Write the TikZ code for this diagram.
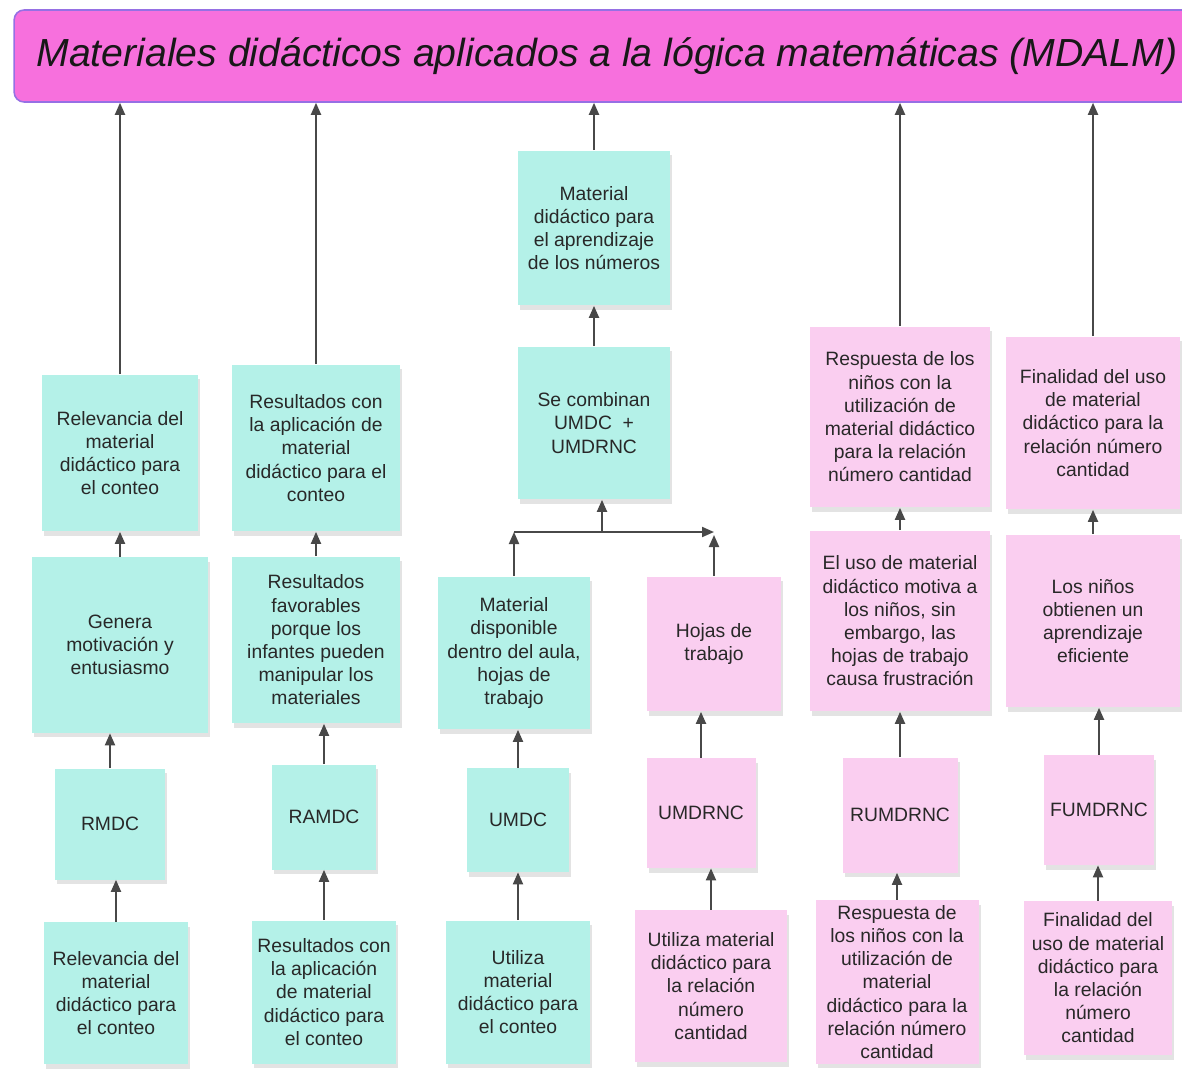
\documentclass[tikz,border=0pt]{standalone}
\usepackage{fontspec}
\setmainfont{Liberation Sans}
\usetikzlibrary{arrows.meta,shadows}
\definecolor{titlepink}{RGB}{247,112,221}
\definecolor{titleedge}{RGB}{150,112,228}
\definecolor{cardteal}{RGB}{180,241,232}
\definecolor{cardpink}{RGB}{250,206,240}
\definecolor{arrowgray}{RGB}{72,72,72}
\definecolor{inkgray}{RGB}{40,40,40}
\tikzset{
  card/.style={rectangle, inner sep=0pt, align=center, text=inkgray,
    font=\fontsize{11}{13.2}\selectfont,
    drop shadow={shadow xshift=0.4mm, shadow yshift=-0.9mm, opacity=0.22}},
  tealcard/.style={card, fill=cardteal},
  pinkcard/.style={card, fill=cardpink},
  sz/.style 2 args={minimum width=#1cm, minimum height=#2cm},
  conn/.style={draw=arrowgray, line width=1.1pt, -{Triangle[length=2.4mm,width=2mm]}},
}
\begin{document}
\begin{tikzpicture}[x=0.02cm, y=-0.02cm]
\useasboundingbox (0,0) rectangle (1182,1078);
\clip (0,0) rectangle (1182,1078);
%title bar
\node[rectangle, rounded corners=2mm, fill=titlepink, draw=titleedge, line width=0.9pt,
  sz={23.72}{1.84}, text=inkgray!60!black, font=\fontsize{22.3}{26}\selectfont\itshape]
  (T) at (607,56) {Materiales didácticos aplicados a la lógica matemáticas (MDALM)};

%first column (counting relevance)
\node[tealcard, sz={3.14}{3.14}] (A1) at (120,453) {Relevancia del\\material\\didáctico para\\el conteo};
\node[tealcard, sz={3.54}{3.52}] (A2) at (120,645) {Genera\\motivación y\\entusiasmo};
\node[tealcard, sz={2.2}{2.22}] (A3) at (110,824) {RMDC};
\node[tealcard, sz={2.88}{2.84}] (A4) at (116,993) {Relevancia del\\material\\didáctico para\\el conteo};

%second column (results)
\node[tealcard, sz={3.36}{3.34}] (B1) at (316,448) {Resultados con\\la aplicación de\\material\\didáctico para el\\conteo};
\node[tealcard, sz={3.36}{3.34}] (B2) at (316,640) {Resultados\\favorables\\porque los\\infantes pueden\\manipular los\\materiales};
\node[tealcard, sz={2.08}{2.1}] (B3) at (324,817) {RAMDC};
\node[tealcard, sz={2.88}{2.86}] (B4) at (324,992) {Resultados con\\la aplicación\\de material\\didáctico para\\el conteo};

%third column (use in the classroom)
\node[tealcard, sz={3.04}{3.1}] (C0) at (594,228) {Material\\didáctico para\\el aprendizaje\\de los números};
\node[tealcard, sz={3.04}{3.06}] (C1) at (594,423) {Se combinan\\UMDC~~+\\UMDRNC};
\node[tealcard, sz={3.06}{3.06}] (C2) at (514,653) {Material\\disponible\\dentro del aula,\\hojas de\\trabajo};
\node[tealcard, sz={2.06}{2.08}] (C3) at (518,820) {UMDC};
\node[tealcard, sz={2.88}{2.86}] (C4) at (518,992) {Utiliza\\material\\didáctico para\\el conteo};

%fourth column (worksheets)
\node[pinkcard, sz={2.68}{2.7}] (D2) at (714,644) {Hojas de\\trabajo};
\node[pinkcard, sz={2.18}{2.2}] (D3) at (701,813) {UMDRNC};
\node[pinkcard, sz={3.04}{3.04}] (D4) at (711,986) {Utiliza material\\didáctico para\\la relación\\número\\cantidad};

%fifth column (children's response)
\node[pinkcard, sz={3.62}{3.62}] (E1) at (900,417) {Respuesta de los\\niños con la\\utilización de\\material didáctico\\para la relación\\número cantidad};
\node[pinkcard, sz={3.62}{3.62}] (E2) at (900,621) {El uso de material\\didáctico motiva a\\los niños, sin\\embargo, las\\hojas de trabajo\\causa frustración};
\node[pinkcard, sz={2.3}{2.3}] (E3) at (900,815) {RUMDRNC};
\node[pinkcard, sz={3.26}{3.28}] (E4) at (897,982) {Respuesta de\\los niños con la\\utilización de\\material\\didáctico para la\\relación número\\cantidad};

%sixth column (purpose)
\node[pinkcard, sz={3.48}{3.46}] (F1) at (1093,423) {Finalidad del uso\\de material\\didáctico para la\\relación número\\cantidad};
\node[pinkcard, sz={3.48}{3.46}] (F2) at (1093,621) {Los niños\\obtienen un\\aprendizaje\\eficiente};
\node[pinkcard, sz={2.2}{2.2}] (F3) at (1099,810) {FUMDRNC};
\node[pinkcard, sz={2.96}{3.08}] (F4) at (1098,978) {Finalidad del\\uso de material\\didáctico para\\la relación\\número\\cantidad};

%junction under C1
\coordinate (jl) at (514,532);
\coordinate (jm) at (602,532);
\coordinate (jr) at (714,532);

%connectors
\draw[conn] (A1.north) -- (A1.north |- T.south);
\draw[conn] (A2.north) -- (A1.south);
\draw[conn] (A3.north) -- (A3.north |- A2.south);
\draw[conn] (A4.north) -- (A4.north |- A3.south);

\draw[conn] (B1.north) -- (B1.north |- T.south);
\draw[conn] (B2.north) -- (B1.south);
\draw[conn] (B3.north) -- (B3.north |- B2.south);
\draw[conn] (B4.north) -- (B3.south);

\draw[conn] (C0.north) -- (C0.north |- T.south);
\draw[conn] (C1.north) -- (C0.south);
\draw[conn] (jm) -- (jm |- C1.south);
\draw[conn] (jl) -- (jr);
\draw[conn] (C2.north) -- (jl);
\draw[conn] (C3.north) -- (C3.north |- C2.south);
\draw[conn] (C4.north) -- (C3.south);

\draw[conn] (D2.north) -- ([yshift=-0.06cm]jr);
\draw[conn] (D3.north) -- (D3.north |- D2.south);
\draw[conn] (D4.north) -- (D4.north |- D3.south);

\draw[conn] (E1.north) -- (E1.north |- T.south);
\draw[conn] (E2.north) -- (E1.south);
\draw[conn] (E3.north) -- (E2.south);
\draw[conn] (E4.north) -- (E4.north |- E3.south);

\draw[conn] (F1.north) -- (F1.north |- T.south);
\draw[conn] (F2.north) -- (F1.south);
\draw[conn] (F3.north) -- (F3.north |- F2.south);
\draw[conn] (F4.north) -- (F4.north |- F3.south);
\end{tikzpicture}
\end{document}
